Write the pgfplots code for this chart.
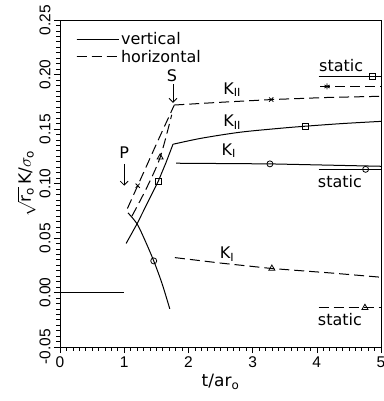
\documentclass[border=0pt]{standalone}
\usepackage{fontspec}
\setmainfont{DejaVu Sans}
\newfontfamily\tickfont{Liberation Sans}
\usepackage{pgfplots}
\pgfplotsset{compat=1.18}
\usetikzlibrary{arrows.meta}
\begin{document}
\begin{tikzpicture}
\begin{axis}[name=ax,
  width=321pt, height=327pt, scale only axis,
  xmin=0, xmax=5, ymin=-0.05, ymax=0.25,
  xtick={0,1,2,3,4,5},
  ytick={-0.05,0,0.05,0.10,0.15,0.20,0.25},
  minor x tick num=9, minor y tick num=9,
  tick align=outside, xtick pos=bottom, ytick pos=left,
  major tick length=6pt, minor tick length=3.5pt,
  tick style={black, line width=0.6pt},
  axis line style={line width=0.8pt},
  scaled y ticks=false,
  /pgf/number format/assume math mode=true,
  ticklabel style={font=\tickfont\fontsize{15.5}{18}\selectfont},
  yticklabel style={rotate=90, anchor=south, /pgf/number format/fixed, /pgf/number format/fixed zerofill, /pgf/number format/precision=2},
  xlabel={t/ar\textsubscript{o}},
  ylabel={$\sqrt{\mathrm{r}_{\mathrm{o}}}$\,K/$\sigma_{\mathrm{o}}$},
  ylabel style={yshift=-3pt},
  label style={font=\fontsize{17}{20}\selectfont},
  legend style={draw=none, fill=none, at={(0.04,0.972)}, anchor=north west, font=\fontsize{16}{18}\selectfont, row sep=2pt, nodes={inner ysep=1pt}},
  legend cell align=left,
  legend image code/.code={\draw[#1] (0pt,0pt) -- (35pt,0pt); \path (0pt,0pt) -- (42pt,0pt);},
  every axis plot/.append style={line width=1pt, black},
  mk/.style={only marks, mark size=3pt, mark options={solid, fill=white, line width=0.8pt}},
  dsh/.style={dash pattern=on 10pt off 5pt},
]
\addlegendimage{solid, line width=1pt}
\addlegendentry{vertical}
\addlegendimage{dash pattern=on 10pt off 5pt, line width=1pt}
\addlegendentry{horizontal}

% vertical, before P
\addplot[forget plot] coordinates {(0,0) (1.0,0)};
% vertical K_I descending
\addplot[forget plot, smooth] coordinates {(1.06,0.073) (1.2,0.063) (1.324,0.0478) (1.46,0.029) (1.589,0.0083) (1.71,-0.015)};
% vertical K_I after S
\addplot[forget plot] coordinates {(1.81,0.1186) (3.27,0.118) (5,0.1158)};
% vertical K_II rising
\addplot[forget plot] coordinates {(1.03,0.045) (1.2,0.063) (1.53,0.102) (1.65,0.119) (1.76,0.136)};
% vertical K_II after
\addplot[forget plot, smooth] coordinates {(1.76,0.136) (2.2,0.1415) (2.8,0.147) (3.4,0.1505) (3.83,0.1526) (4.4,0.155) (5,0.157)};
% horizontal K_II before S
\addplot[forget plot, dsh] coordinates {(1.05,0.077) (1.21,0.098) (1.5,0.136) (1.78,0.172)};
% horizontal K_II after
\addplot[forget plot, dsh] coordinates {(1.78,0.172) (2.5,0.1745) (3.29,0.177) (4.2,0.179) (5,0.180)};
% horizontal K_I before
\addplot[forget plot, dsh, smooth] coordinates {(1.12,0.07) (1.35,0.096) (1.56,0.124) (1.74,0.163)};
% horizontal K_I after
\addplot[forget plot, dsh] coordinates {(1.79,0.032) (2.5,0.027) (3.3,0.022) (4.2,0.018) (5,0.014)};
% static lines
\addplot[forget plot] coordinates {(4.03,0.198) (5,0.198)};
\addplot[forget plot, dsh] coordinates {(4.05,0.189) (5,0.189)};
\addplot[forget plot] coordinates {(4.03,0.113) (5,0.113)};
\addplot[forget plot, dsh] coordinates {(4.03,-0.014) (5,-0.014)};
% markers
\addplot[forget plot, mk, mark=o] coordinates {(1.46,0.029) (3.27,0.118) (4.76,0.113)};
\addplot[forget plot, mk, mark=square] coordinates {(1.53,0.102) (3.83,0.1526) (4.86,0.198)};
\addplot[forget plot, mk, mark=triangle, mark size=3.5pt] coordinates {(1.56,0.124) (3.3,0.022) (4.75,-0.014)};
\addplot[forget plot, mk, mark=x] coordinates {(1.21,0.098) (3.29,0.177)};
\addplot[forget plot, mk, mark=asterisk] coordinates {(4.16,0.189)};

% annotations
\draw[-{Straight Barb[length=4pt]}, line width=0.8pt] (axis cs:1.76,0.191) -- (axis cs:1.76,0.174);
\node[font=\fontsize{16}{18}\selectfont, inner ysep=1pt] at (axis cs:1.745,0.199) {S};
\draw[-{Straight Barb[length=4pt]}, line width=0.8pt] (axis cs:1.0,0.118) -- (axis cs:1.0,0.098);
\node[font=\fontsize{16}{18}\selectfont] at (axis cs:1.0,0.128) {P};
\node[font=\fontsize{16}{18}\selectfont] at (axis cs:2.68,0.186) {K\textsubscript{II}};
\node[font=\fontsize{16}{18}\selectfont] at (axis cs:2.68,0.156) {K\textsubscript{II}};
\node[font=\fontsize{16}{18}\selectfont] at (axis cs:2.63,0.130) {K\textsubscript{I}};
\node[font=\fontsize{16}{18}\selectfont] at (axis cs:2.6,0.035) {K\textsubscript{I}};
\node[font=\fontsize{16}{18}\selectfont] at (axis cs:4.38,0.208) {static};
\node[font=\fontsize{16}{18}\selectfont] at (axis cs:4.36,0.102) {static};
\node[font=\fontsize{16}{18}\selectfont] at (axis cs:4.36,-0.025) {static};
\end{axis}
\pgfresetboundingbox
\path[use as bounding box] ([shift={(-60pt,-54pt)}]ax.south west) rectangle ([shift={(3pt,20pt)}]ax.north east);
\end{tikzpicture}
\end{document}
